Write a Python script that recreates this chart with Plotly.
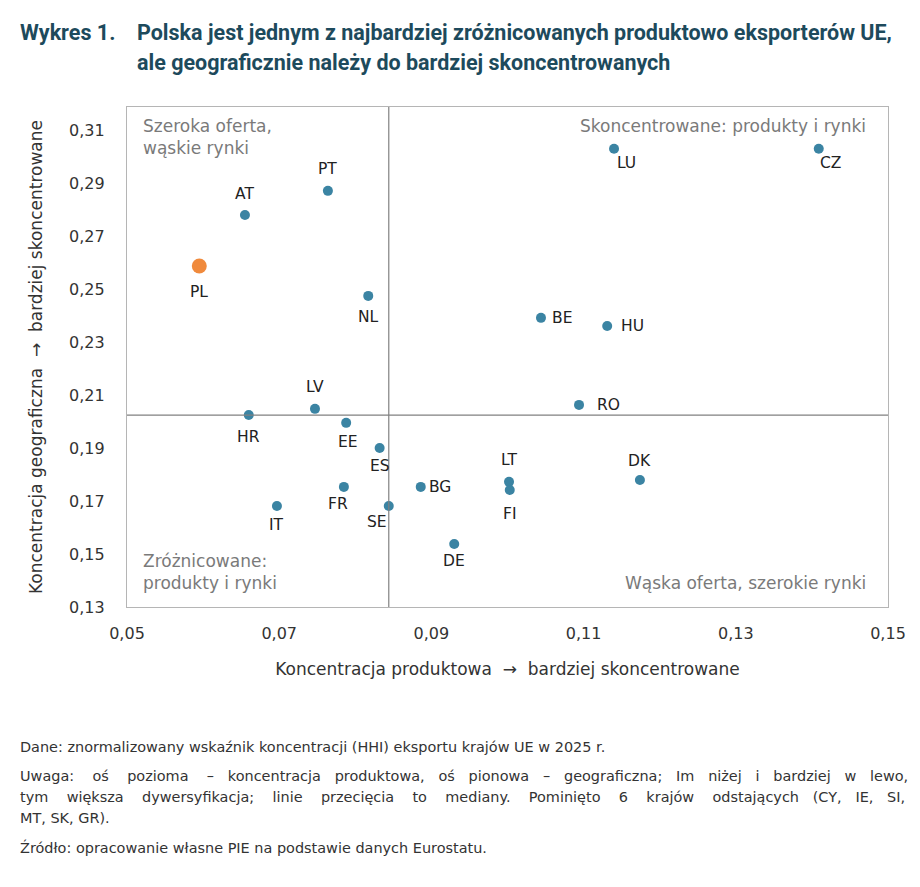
import plotly.graph_objects as go

# ---- data ----
countries = ["PL", "AT", "PT", "NL", "LU", "CZ", "BE", "HU", "RO", "LV", "HR",
             "EE", "ES", "FR", "IT", "SE", "BG", "DE", "LT", "FI", "DK"]
prod_conc = [0.0595, 0.0655, 0.0764, 0.0817, 0.1140, 0.1409, 0.1044, 0.1131, 0.1094, 0.0747, 0.0660,
             0.0788, 0.0832, 0.0785, 0.0697, 0.0844, 0.0886, 0.0930, 0.1002, 0.1003, 0.1174]
geo_conc = [0.2589, 0.2782, 0.2873, 0.2476, 0.3032, 0.3032, 0.2393, 0.2362, 0.2064, 0.2049, 0.2026,
            0.1996, 0.1901, 0.1754, 0.1682, 0.1682, 0.1754, 0.1538, 0.1773, 0.1742, 0.1780]
median_x = 0.0844
median_y = 0.2025
x_ticks = [0.05, 0.07, 0.09, 0.11, 0.13, 0.15]
y_ticks = [0.13, 0.15, 0.17, 0.19, 0.21, 0.23, 0.25, 0.27, 0.29, 0.31]

# label placement style (pixel offsets of label centre from the point)
label_pos = {
    "PL": (0, -26), "AT": (0, 21), "PT": (0, 22), "NL": (0, -21), "LU": (12, -14),
    "CZ": (12, -14), "BE": (21, 0), "HU": (25, 0), "RO": (29, 0), "LV": (0, 22),
    "HR": (0, -22), "EE": (2, -19), "ES": (0, -18), "FR": (-6, -17), "IT": (0, -19),
    "SE": (-12, -16), "BG": (19, 0), "DE": (0, -17), "LT": (0, 22), "FI": (0, -24),
    "DK": (0, 19),
}

BLUE = "#3b84a3"
ORANGE = "#f08a3c"
FONT = "DejaVu Sans"
COND = "Roboto"

colors = [ORANGE if c == "PL" else BLUE for c in countries]
sizes = [15 if c == "PL" else 10 for c in countries]

fig = go.Figure()
fig.add_trace(go.Scatter(
    x=prod_conc, y=geo_conc, mode="markers",
    marker=dict(color=colors, size=sizes, opacity=1, line=dict(width=0)),
    hovertext=countries, hoverinfo="text", showlegend=False,
))

annotations = []
for c, xv, yv in zip(countries, prod_conc, geo_conc):
    dx, dy = label_pos[c]
    annotations.append(dict(x=xv, y=yv, xref="x", yref="y", text=c, showarrow=False,
                            xshift=dx, yshift=dy, xanchor="center", yanchor="middle",
                            font=dict(family=FONT, size=15.5, color="#222222")))

# quadrant labels
qfont = dict(family=FONT, size=17, color="#7a7a7a")
annotations += [
    dict(x=0.018, y=0.987, xref="paper", yref="paper", text="Szeroka oferta,<br>wąskie rynki",
         showarrow=False, xanchor="left", yanchor="top", align="left", font=qfont),
    dict(x=0.974, y=0.987, xref="paper", yref="paper", text="Skoncentrowane: produkty i rynki",
         showarrow=False, xanchor="right", yanchor="top", align="right", font=qfont),
    dict(x=0.018, y=0.025, xref="paper", yref="paper", text="Zróżnicowane:<br>produkty i rynki",
         showarrow=False, xanchor="left", yanchor="bottom", align="left", font=qfont),
    dict(x=0.974, y=0.025, xref="paper", yref="paper", text="Wąska oferta, szerokie rynki",
         showarrow=False, xanchor="right", yanchor="bottom", align="right", font=qfont),
]

# title
PH = 500.0
PW = 761.0
def py(p):
    return (607 - p) / PH
def px(p):
    return (p - 127) / PW

tfont = dict(family=COND, size=21.5, color="#1d4a5c")
annotations += [
    dict(x=px(18), y=py(32), xref="paper", yref="paper", text="<b>Wykres 1.</b>", showarrow=False,
         xanchor="left", yanchor="middle", font=tfont),
    dict(x=px(135), y=py(32), xref="paper", yref="paper",
         text="<b>Polska jest jednym z najbardziej zróżnicowanych produktowo eksporterów UE,</b>",
         showarrow=False, xanchor="left", yanchor="middle", font=tfont),
    dict(x=px(135), y=py(63), xref="paper", yref="paper",
         text="<b>ale geograficznie należy do bardziej skoncentrowanych</b>",
         showarrow=False, xanchor="left", yanchor="middle", font=tfont),
]

# footer (two middle lines are justified in the original: spread word gaps)
NB = "\u00a0"
def spread(line, extra):
    words = line.split(" ")
    gaps = len(words) - 1
    out = words[0]
    for i, w in enumerate(words[1:]):
        n = extra // gaps + (1 if i < extra % gaps else 0)
        out += " " + NB * n + w
    return out

ffont = dict(family=FONT, size=14.45, color="#333333")
footer = [
    (747, "Dane: znormalizowany wskaźnik koncentracji (HHI) eksportu krajów UE w 2025 r.", 0),
    (776, "Uwaga: oś pozioma – koncentracja produktowa, oś pionowa – geograficzna; Im niżej i bardziej w lewo,", 33),
    (797, "tym większa dywersyfikacja; linie przecięcia to mediany. Pominięto 6 krajów odstających (CY, IE, SI,", 36),
    (818, "MT, SK, GR).", 0),
    (847, "Źródło: opracowanie własne PIE na podstawie danych Eurostatu.", 0),
]
for ypix, txt, extra in footer:
    annotations.append(dict(x=px(18), y=py(ypix), xref="paper", yref="paper",
                            text=spread(txt, extra) if extra else txt,
                            showarrow=False, xanchor="left", yanchor="middle", font=ffont))

shapes = [
    dict(type="line", xref="x", yref="paper", x0=median_x, x1=median_x, y0=0, y1=1,
         line=dict(color="#808080", width=1.2)),
    dict(type="line", xref="paper", yref="y", x0=0, x1=1, y0=median_y, y1=median_y,
         line=dict(color="#808080", width=1.2)),
]

fig.update_layout(
    width=920, height=887,
    margin=dict(l=127, r=32, t=107, b=280),
    paper_bgcolor="white", plot_bgcolor="white",
    separators=", ",
    font=dict(family=FONT, size=15, color="#333333"),
    annotations=annotations, shapes=shapes,
    xaxis=dict(range=[0.05, 0.15], tickvals=x_ticks, tickformat=".2f",
               showgrid=False, zeroline=False, showline=True, mirror=True,
               linecolor="#b5b5b5", linewidth=1.2, ticks="", ticklabelstandoff=12,
               title=dict(text="Koncentracja produktowa  →  bardziej skoncentrowane",
                          font=dict(family=FONT, size=17, color="#333333"), standoff=20),
               tickfont=dict(family=FONT, size=16, color="#333333")),
    yaxis=dict(range=[0.13, 0.319], tickvals=y_ticks, tickformat=".2f",
               showgrid=False, zeroline=False, showline=True, mirror=True,
               linecolor="#b5b5b5", linewidth=1.2, ticks="", ticklabelstandoff=18,
               title=dict(text="Koncentracja geograficzna  →  bardziej skoncentrowane",
                          font=dict(family=FONT, size=17, color="#333333"), standoff=22),
               tickfont=dict(family=FONT, size=16, color="#333333")),
)

fig.write_html("out.html")
